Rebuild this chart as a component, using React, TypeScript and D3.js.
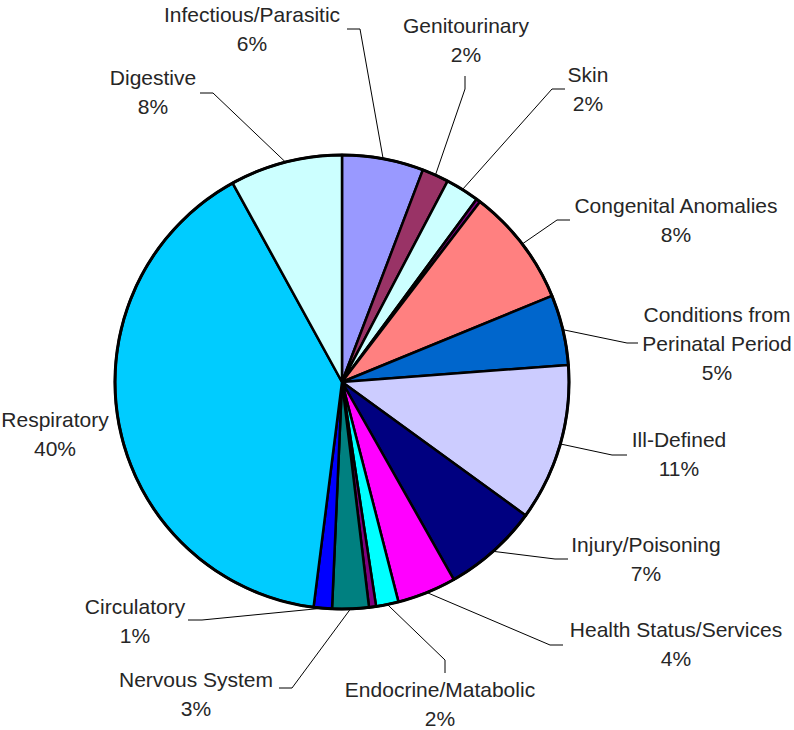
import React from "react";
import * as d3 from "d3";

const categories = [
  "Infectious/Parasitic",
  "Genitourinary",
  "Skin",
  "Other A",
  "Congenital Anomalies",
  "Conditions from Perinatal Period",
  "Ill-Defined",
  "Injury/Poisoning",
  "Health Status/Services",
  "Endocrine/Matabolic",
  "Other B",
  "Nervous System",
  "Circulatory",
  "Respiratory",
  "Digestive",
];
const values = [5.8, 1.9, 2.4, 0.3, 8.4, 5.0, 11.2, 6.8, 4.2, 1.6, 0.5, 2.6, 1.3, 40.0, 8.0];
const colors = [
  "#9999FF", "#993366", "#CCFFFF", "#800080", "#FF8080", "#0066CC", "#CCCCFF",
  "#000080", "#FF00FF", "#00FFFF", "#800080", "#008080", "#0000FF", "#00CCFF", "#CCFFFF",
];
const labelLines: (string[] | null)[] = [
  ["Infectious/Parasitic"],
  ["Genitourinary"],
  ["Skin"],
  null,
  ["Congenital Anomalies"],
  ["Conditions from", "Perinatal Period"],
  ["Ill-Defined"],
  ["Injury/Poisoning"],
  ["Health Status/Services"],
  ["Endocrine/Matabolic"],
  null,
  ["Nervous System"],
  ["Circulatory"],
  ["Respiratory"],
  ["Digestive"],
];

// layout: label center x, first baseline y, leader elbow and end
type Layout = { x: number; y: number; elbow?: [number, number]; end?: [number, number] } | null;
const labelLayout: Layout[] = [
  { x: 252, y: 22, elbow: [360, 29], end: [347, 29] },
  { x: 466, y: 33, elbow: [465, 89], end: [465, 76] },
  { x: 588, y: 82, elbow: [552, 89], end: [565, 89] },
  null,
  { x: 676, y: 213, elbow: [557, 220], end: [570, 220] },
  { x: 717, y: 322, elbow: [627, 343], end: [638, 343] },
  { x: 679, y: 447, elbow: [612, 455], end: [627, 455] },
  { x: 646, y: 552, elbow: [555, 559], end: [568, 559] },
  { x: 676, y: 637, elbow: [550, 645], end: [563, 645] },
  { x: 440, y: 697, elbow: [445, 660], end: [445, 673] },
  null,
  { x: 196, y: 687, elbow: [292, 688], end: [279, 688] },
  { x: 135, y: 614, elbow: [202, 620], end: [188, 620] },
  { x: 55, y: 427 },
  { x: 153, y: 85, elbow: [213, 93], end: [200, 93] },
];

const W = 794;
const H = 730;
const cx = 342;
const cy = 382;
const R = 227;
const lineGap = 29;

export default function App() {
  const total = d3.sum(values);
  const pie = d3.pie<number>().sort(null).value((d) => d);
  const arcs = pie(values);
  const arcGen = d3.arc<d3.PieArcDatum<number>>().innerRadius(0).outerRadius(R);

  return (
    <svg
      width={W}
      height={H}
      style={{ position: "absolute", left: 0, top: 0, background: "#fff" }}
      fontFamily="'Liberation Sans', Arial, sans-serif"
    >
      <g transform={`translate(${cx},${cy})`}>
        {arcs.map((a, i) => (
          <path
            key={i}
            d={arcGen(a) || ""}
            fill={colors[i]}
            stroke="#000"
            strokeWidth={2.5}
            strokeLinejoin="round"
          />
        ))}
        <circle r={R} fill="none" stroke="#000" strokeWidth={3} />
      </g>
      {arcs.map((a, i) => {
        const lay = labelLayout[i];
        const lines = labelLines[i];
        if (!lay || !lines) return null;
        const mid = (a.startAngle + a.endAngle) / 2;
        const sx = cx + Math.sin(mid) * R;
        const sy = cy - Math.cos(mid) * R;
        const pct = Math.round((values[i] / total) * 100) + "%";
        const all = [...lines, pct];
        return (
          <g key={"l" + i}>
            {lay.elbow && lay.end && (
              <polyline
                points={`${sx},${sy} ${lay.elbow[0]},${lay.elbow[1]} ${lay.end[0]},${lay.end[1]}`}
                fill="none"
                stroke="#000"
                strokeWidth={1}
              />
            )}
            <text textAnchor="middle" fontSize={21} fill="#262626">
              {all.map((t, j) => (
                <tspan key={j} x={lay.x} y={lay.y + j * lineGap}>
                  {t}
                </tspan>
              ))}
            </text>
          </g>
        );
      })}
    </svg>
  );
}
